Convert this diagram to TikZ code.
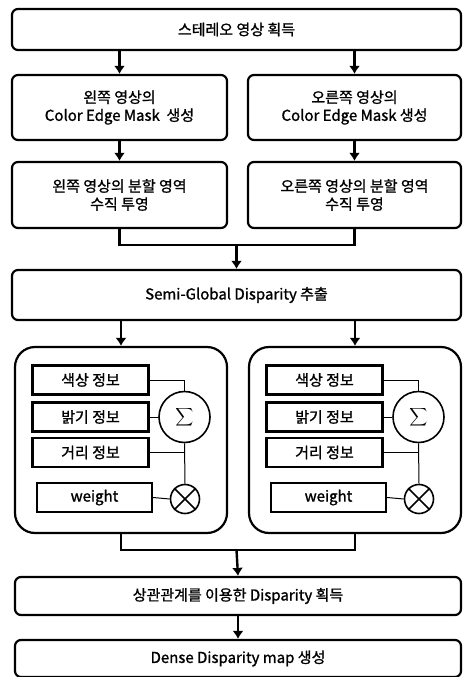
\documentclass[tikz,border=0pt]{standalone}
\usepackage{fontspec}
\setmainfont{Noto Sans CJK KR}[FakeBold=1.2]
\usetikzlibrary{arrows.meta}

\begin{document}
\begin{tikzpicture}[x=1pt,y=-1pt,>={Latex[length=8pt,width=11pt]},
        box/.style={draw,line width=2.2pt,rounded corners=6pt,align=center,inner sep=0pt,
                font=\fontsize{15}{18}\selectfont},
        group/.style={draw,line width=2.2pt,rounded corners=20pt,inner sep=0pt},
        item/.style={draw,line width=2.2pt,inner sep=0pt,minimum width=116pt,minimum height=29pt,
                font=\fontsize{15}{18}\selectfont},
        op/.style={draw,circle,line width=1.6pt,inner sep=0pt},
        link/.style={line width=1pt},
        flow/.style={->,line width=2.4pt}]
        \useasboundingbox (0,0) rectangle (463,677);

        % draw the main steps
        \node[box,minimum width=449pt,minimum height=41pt] (stereo) at (236.5,29.5) {스테레오 영상 획득};
        \node[box,minimum width=215pt,minimum height=65pt] (maskl) at (119.5,107.5) {왼쪽 영상의\\Color Edge Mask~~생성};
        \node[box,minimum width=213pt,minimum height=65pt] (maskr) at (354.5,107.5) {오른쪽 영상의\\Color Edge Mask 생성};
        \node[box,minimum width=215pt,minimum height=66pt] (projl) at (119.5,195) {왼쪽 영상의 분할 영역\\수직 투영};
        \node[box,minimum width=213pt,minimum height=66pt] (projr) at (354.5,195) {오른쪽 영상의 분할 영역\\수직 투영};
        \node[box,minimum width=449pt,minimum height=50pt] (semi) at (236.5,295) {Semi-Global Disparity 추출};
        \node[box,minimum width=446pt,minimum height=38pt] (corr) at (238,596) {상관관계를 이용한 Disparity 획득};
        \node[box,minimum width=446pt,minimum height=37pt] (dense) at (238,658.5) {Dense Disparity map 생성};

        % the points where the branches meet
        \coordinate (join1) at (236.5,245);
        \coordinate (join2) at (236.5,550);

        % draw the arrows between the steps
        \draw[flow] (maskl.north |- stereo.south) -- (maskl.north);
        \draw[flow] (maskr.north |- stereo.south) -- (maskr.north);
        \draw[flow] (maskl) -- (projl);
        \draw[flow] (maskr) -- (projr);
        \draw[line width=2.4pt] (projl.south) |- (join1) -| (projr.south);
        \draw[flow] (join1) -- (semi.north);

        %draw the two weighting blocks
        \foreach \s/\dx in {l/0, r/234} {
                % outer rounded block
                \node[group,minimum width=212pt,minimum height=186pt] (g\s) at (121+\dx,440) {};
                % the cues and the weight
                \node[item] (col\s) at (90.5+\dx,380) {색상 정보};
                \node[item] (lum\s) at (90.5+\dx,417) {밝기 정보};
                \node[item] (dist\s) at (90.5+\dx,452.5) {거리 정보};
                \node[item,minimum width=115pt] (wt\s) at (94.5+\dx,497.5) {weight};
                % sum and product
                \node[op,minimum size=51pt] (sum\s) at (184.5+\dx,417) {\scalebox{1.25}{$\displaystyle\sum$}};
                \node[op,minimum size=29pt] (mul\s) at (185+\dx,499) {};
                \draw[line width=1.6pt] (mul\s.north east) -- (mul\s.south west)
                        (mul\s.north west) -- (mul\s.south east);
                % lines into the operators
                \draw[link] (col\s.east) -| (sum\s.north);
                \draw[link] (lum\s.east) -- (sum\s.west);
                \draw[link] (dist\s.east) -- (dist\s.east -| sum\s.south);
                \draw[link] (sum\s.south) -- (mul\s.north);
                \draw[link] (wt\s.east) -- (mul\s.west);
                % arrow from the semi-global step
                \draw[flow] (g\s.north |- semi.south) -- (g\s.north);
        }

        % draw the merge below the blocks
        \draw[line width=2.4pt] (gl.south) |- (join2) -| (gr.south);
        \draw[flow] (join2) -- (corr.north);
        \draw[flow] (corr) -- (dense);

\end{tikzpicture}
\end{document}
